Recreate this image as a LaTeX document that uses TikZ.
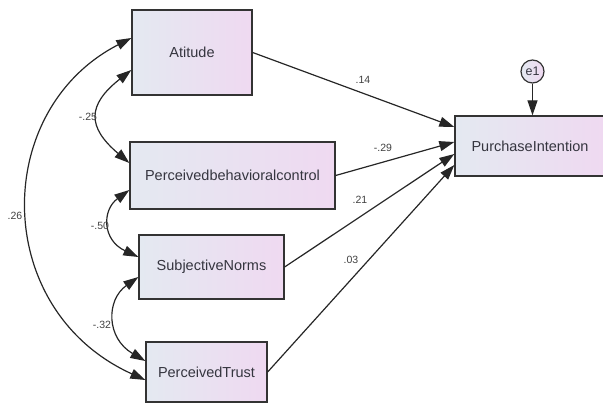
\documentclass[tikz,border=0pt]{standalone}
\usepackage{fontspec}
\setmainfont{Liberation Sans}
\usetikzlibrary{arrows.meta,positioning}
\definecolor{boxleft}{HTML}{E4E9F1}
\definecolor{boxright}{HTML}{EFD9F1}
\definecolor{edgegray}{HTML}{333333}
\definecolor{txtgray}{HTML}{35353F}
\begin{document}
\begin{tikzpicture}[x=1pt,y=-1pt,
 var/.style={draw=edgegray,line width=1.3pt,left color=boxleft,right color=boxright,
  inner sep=0pt,font=\fontsize{14.5}{16}\selectfont,text=txtgray},
 err/.style={circle,draw=edgegray,line width=1.2pt,left color=boxleft,right color=boxright,
  minimum size=23pt,inner sep=0pt,font=\fontsize{12.5}{14}\selectfont,text=txtgray},
 path/.style={draw=black!85,line width=1.2pt,-{Triangle[length=15pt,width=10pt]}},
 cov/.style={draw=black!85,line width=1.2pt,{Triangle[length=15pt,width=10pt]}-{Triangle[length=15pt,width=10pt]}},
 est/.style={font=\fontsize{10.5}{12}\selectfont,text=black!75,inner sep=0pt}]
\useasboundingbox (0,0) rectangle (603,403);
% observed variables
\node[var,minimum width=120pt,minimum height=85pt] (att) at (192,52.5) {Atitude};
\node[var,minimum width=205pt,minimum height=67pt] (pbc) at (232.5,175.5) {Perceivedbehavioralcontrol};
\node[var,minimum width=145pt,minimum height=64pt] (sn) at (211.5,267) {SubjectiveNorms};
\node[var,minimum width=121pt,minimum height=60pt] (pt) at (206.5,372) {PerceivedTrust};
\node[var,minimum width=150pt,minimum height=60pt] (pi) at (530,146) {PurchaseIntention};
\node[err] (e1) at (532.5,71.5) {e1};
% regression paths
\draw[path] (att.east) -- ([yshift=19pt]pi.west);
\draw[path] (pbc.east) -- ([yshift=4pt]pi.west);
\draw[path] (sn.east) -- ([yshift=-8pt]pi.west);
\draw[path] (pt.east) -- ([yshift=-19pt]pi.west);
\draw[path] (e1.south) -- (e1 |- pi.north);
% covariances
\draw[cov] ([yshift=-17.5pt]att.west) .. controls (87,105) and (87,127) .. ([yshift=12.5pt]pbc.west);
\draw[cov] ([yshift=-14.5pt]pbc.west) .. controls (102,210) and (102,240) .. ([yshift=10pt]sn.west);
\draw[cov] ([yshift=-10pt]sn.west) .. controls (106,300) and (106,338) .. ([yshift=11pt]pt.west);
\draw[cov] ([yshift=14.5pt]att.west) .. controls (-9,110) and (-9,310) .. ([yshift=-8pt]pt.west);
% estimates
\node[est] (b1) at (363,80) {.14};
\node[est] (b2) at (383,148) {-.29};
\node[est] (b3) at (360,200) {.21};
\node[est] (b4) at (351,260) {.03};
\node[est] (r1) at (88,117) {-.25};
\node[est] (r2) at (100,226) {-.50};
\node[est] (r3) at (102,325) {-.32};
\node[est] (r4) at (15,216) {.26};
\end{tikzpicture}
\end{document}
